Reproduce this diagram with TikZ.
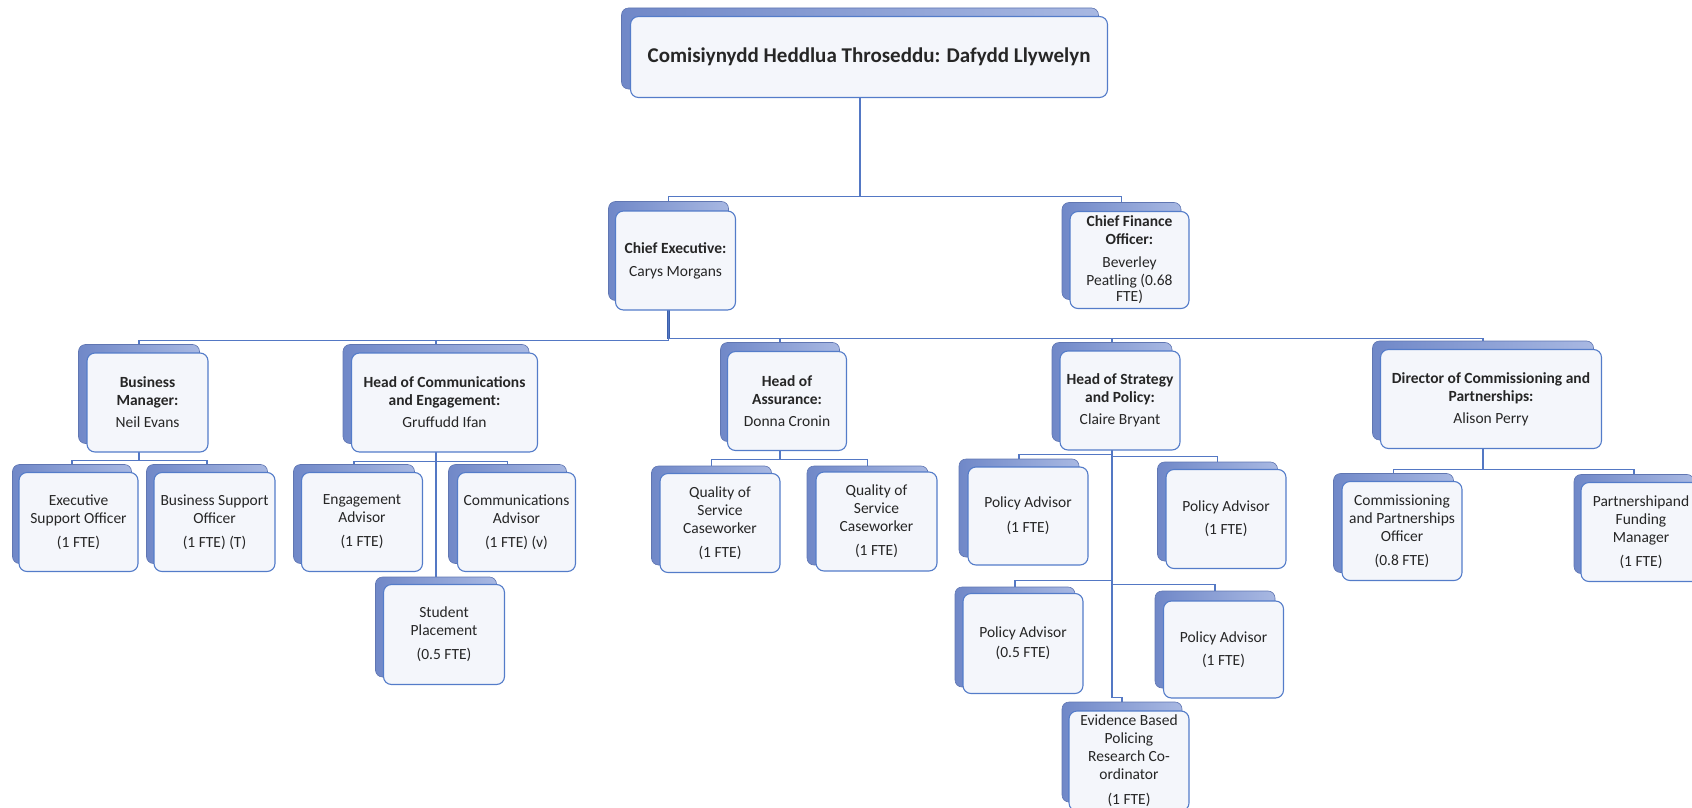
\documentclass[tikz,border=0pt]{standalone}
\usepackage{fontspec}
\setmainfont{Carlito}
\usetikzlibrary{backgrounds}

\definecolor{boxline}{RGB}{84,124,201}
\definecolor{boxfill}{RGB}{244,246,251}
\definecolor{backdark}{RGB}{112,136,200}
\definecolor{backlight}{RGB}{168,184,226}
\definecolor{backline}{RGB}{96,118,178}
\definecolor{linkblue}{RGB}{84,120,196}
\definecolor{linkdark}{RGB}{60,96,172}
\definecolor{txt}{RGB}{38,38,38}

\begin{document}
\begin{tikzpicture}[x=1pt, y=-1pt,
  back/.style={rounded corners=7pt, draw=backline, line width=0.6pt, left color=backdark, right color=backlight, inner sep=0pt},
  front/.style={rounded corners=8pt, draw=boxline, line width=1.1pt, fill=boxfill, inner sep=0pt, align=center, text=txt, font=\fontsize{15.5}{18}\selectfont},
  conn/.style={draw=linkblue, line width=1.2pt},
  trunk/.style={draw=linkdark, line width=2.2pt}]

\useasboundingbox (0,0) rectangle (1692,808);

% commissioner
\node[back, minimum width=477, minimum height=81] (top) at (860,48.5) {};
\node[front, minimum width=477, minimum height=81, font=\fontsize{21}{24}\selectfont\bfseries] (top-t) at (869,57) {Comisiynydd Heddlua Throseddu: Dafydd Llywelyn};

% second row
\node[back, minimum width=120, minimum height=99] (ce) at (668.5,251) {};
\node[front, minimum width=120, minimum height=99] (ce-t) at (675.5,260.5) {\textbf{Chief Executive:}\\[5pt]Carys Morgans};

\node[back, minimum width=119, minimum height=97] (cfo) at (1121.5,251) {};
\node[front, minimum width=119, minimum height=97] (cfo-t) at (1129.5,260) {\textbf{Chief Finance}\\\textbf{Officer:}\\[5pt]Beverley\\Peatling (0.68\\[-2pt]FTE)};

% heads
\node[back, minimum width=121, minimum height=99] (bm) at (139,394) {};
\node[front, minimum width=121, minimum height=99] (bm-t) at (147.5,402.5) {\textbf{Business}\\\textbf{Manager:}\\[4pt]Neil Evans};

\node[back, minimum width=186, minimum height=99] (comms) at (436,394) {};
\node[front, minimum width=186, minimum height=99] (comms-t) at (444.5,402.5) {\textbf{Head of Communications}\\\textbf{and Engagement:}\\[4pt]Gruffudd Ifan};

\node[back, minimum width=119, minimum height=99] (assur) at (780,392) {};
\node[front, minimum width=119, minimum height=99] (assur-t) at (787,401) {\textbf{Head of}\\\textbf{Assurance:}\\[4pt]Donna Cronin};

\node[back, minimum width=120, minimum height=99] (strat) at (1112,392) {};
\node[front, minimum width=120, minimum height=99] (strat-t) at (1120,400.5) {\textbf{Head of Strategy}\\\textbf{and Policy:}\\[4pt]Claire Bryant};

\node[back, minimum width=221, minimum height=99] (dir) at (1483,390.5) {};
\node[front, minimum width=221, minimum height=99] (dir-t) at (1491,399) {\textbf{Director of Commissioning and}\\\textbf{Partnerships:}\\[4pt]Alison Perry};

% business team
\node[back, minimum width=119, minimum height=99] (eso) at (72,514) {};
\node[front, minimum width=119, minimum height=99] (eso-t) at (78.5,522) {Executive\\Support Officer\\[6pt](1 FTE)};

\node[back, minimum width=121, minimum height=99] (bso) at (207,514) {};
\node[front, minimum width=121, minimum height=99] (bso-t) at (214.5,522) {Business Support\\Officer\\[6pt](1 FTE) (T)};

% communications team
\node[back, minimum width=121, minimum height=99] (eng) at (354,514) {};
\node[front, minimum width=121, minimum height=99] (eng-t) at (362,522) {Engagement\\Advisor\\[6pt](1 FTE)};

\node[back, minimum width=118, minimum height=99] (comadv) at (507.5,514) {};
\node[front, minimum width=118, minimum height=99] (comadv-t) at (516.5,522) {Communications\\Advisor\\[6pt](1 FTE) (v)};

\node[back, minimum width=121, minimum height=100] (stud) at (436,627) {};
\node[front, minimum width=121, minimum height=100] (stud-t) at (444,634.5) {Student\\Placement\\[6pt](0.5 FTE)};

% assurance team
\node[back, minimum width=120, minimum height=99] (qos1) at (711.5,515.5) {};
\node[front, minimum width=120, minimum height=99] (qos1-t) at (720,523) {Quality of\\Service\\Caseworker\\[6pt](1 FTE)};

\node[back, minimum width=121, minimum height=99] (qos2) at (867.5,515.5) {};
\node[front, minimum width=121, minimum height=99] (qos2-t) at (876.5,521.5) {Quality of\\Service\\Caseworker\\[6pt](1 FTE)};

% strategy team
\node[back, minimum width=120, minimum height=98] (pa1) at (1019,508) {};
\node[front, minimum width=120, minimum height=98] (pa1-t) at (1028,516) {Policy Advisor\\[7pt](1 FTE)};

\node[back, minimum width=120, minimum height=99] (pa2) at (1217.5,511.5) {};
\node[front, minimum width=120, minimum height=99] (pa2-t) at (1226,519) {Policy Advisor\\[5pt](1 FTE)};

\node[back, minimum width=120, minimum height=100] (pa3) at (1015,637) {};
\node[front, minimum width=120, minimum height=100] (pa3-t) at (1023,643.5) {Policy Advisor\\[2pt](0.5 FTE)};

\node[back, minimum width=120, minimum height=97] (pa4) at (1215,639.5) {};
\node[front, minimum width=120, minimum height=97] (pa4-t) at (1223.5,649.5) {Policy Advisor\\[5pt](1 FTE)};

\node[back, minimum width=120, minimum height=100] (ebp) at (1122,752) {};
\node[front, minimum width=120, minimum height=100] (ebp-t) at (1129,761) {Evidence Based\\Policing\\Research Co-\\ordinator\\[7pt](1 FTE)};

% commissioning team
\node[back, minimum width=120, minimum height=99] (cpo) at (1393.5,523) {};
\node[front, minimum width=120, minimum height=99] (cpo-t) at (1402,531) {Commissioning\\and Partnerships\\Officer\\[6pt](0.8 FTE)};

\node[back, minimum width=120, minimum height=99] (pfm) at (1634,524) {};
\node[front, minimum width=120, minimum height=99] (pfm-t) at (1641,532) {Partnershipand\\Funding\\Manager\\[6pt](1 FTE)};

\begin{pgfonlayer}{background}
\draw[trunk] (top.south) -- ++(0,107);
\draw[conn] (top.south) -- ++(0,107) -| (ce.north);
\draw[conn] (top.south) -- ++(0,107) -| (cfo.north);

\draw[trunk] (ce.south) -- ++(0,38.5);
\draw[conn] (ce.south) -- ++(0,39.5) -| (bm.north);
\draw[conn] (ce.south) -- ++(0,39.5) -| (comms.north);
\draw[conn] (ce.south) -- ++(0,37.5) -| (assur.north);
\draw[conn] (ce.south) -- ++(0,37.5) -| (strat.north);
\draw[conn] (ce.south) -- ++(0,37.5) -| (dir.north);

\draw[conn] (bm.south) -- ++(0,16.5) -| (eso.north);
\draw[conn] (bm.south) -- ++(0,16.5) -| (bso.north);

\draw[conn] (comms.south) -- ++(0,17.5) -| (eng.north);
\draw[conn] (comms.south) -- ++(0,17.5) -| (comadv.north);
\draw[conn] (comms.south) -- (stud.north);

\draw[conn] (assur.south) -- ++(0,17.5) -| (qos1.north);
\draw[conn] (assur.south) -- ++(0,17.5) -| (qos2.north);

\draw[conn] (strat.south) -- ++(0,12.5) -| (pa1.north);
\draw[conn] (strat.south) -- ++(0,14.5) -| (pa2.north);
\draw[conn] (strat.south) -- ++(0,138.5) -| (pa3.north);
\draw[conn] (strat.south) -- ++(0,142.5) -| (pa4.north);
\draw[conn] (strat.south) -- ++(0,255.5) -| (ebp.north);

\draw[conn] (dir.south) -- ++(0,29) -| (cpo.north);
\draw[conn] (dir.south) -- ++(0,29) -| (pfm.north);
\end{pgfonlayer}
\end{tikzpicture}
\end{document}
